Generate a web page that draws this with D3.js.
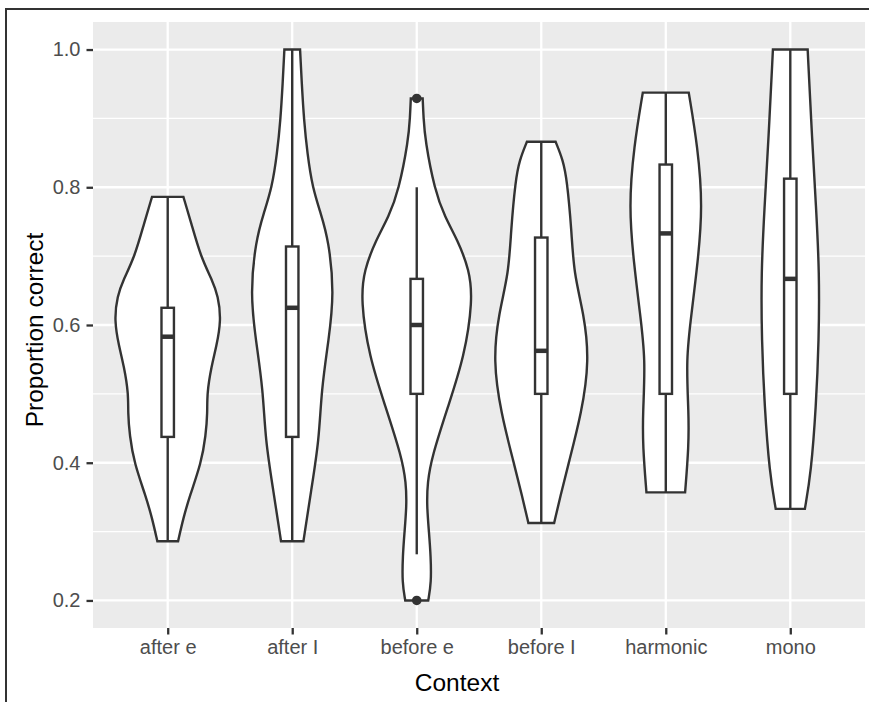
<!DOCTYPE html>
<html>
<head>
<meta charset="utf-8">
<script src="https://cdn.jsdelivr.net/npm/d3@7"></script>
<style>
  html, body { margin: 0; padding: 0; background: #fff; }
  svg { display: block; }
  text { font-family: "Liberation Sans", Arial, sans-serif; }
</style>
</head>
<body>
<svg id="chart" width="869" height="702"></svg>
<script>
// ---------------- DATA ----------------
const categories = ["after e", "after I", "before e", "before I", "harmonic", "mono"];
const yTicks = [0.2, 0.4, 0.6, 0.8, 1.0];
const yTickLabels = ["0.2", "0.4", "0.6", "0.8", "1.0"];
const yMinorTicks = [0.3, 0.5, 0.7, 0.9];

// violin density profiles: [proportion correct, relative density]
const violinAfterE = [[0.786,0.28],[0.786,0.28],[0.748,0.42],[0.699,0.59],[0.666,0.79],[0.642,0.90],[0.607,0.955],[0.569,0.87],[0.54,0.78],[0.50,0.70],[0.473,0.71],[0.44,0.68],[0.40,0.60],[0.351,0.39],[0.32,0.28],[0.286,0.185],[0.286,0.185]];
const violinAfterI = [[1.0,0.14],[1.0,0.14],[0.951,0.17],[0.897,0.21],[0.849,0.27],[0.80,0.36],[0.762,0.51],[0.723,0.65],[0.646,0.75],[0.578,0.65],[0.506,0.52],[0.433,0.48],[0.361,0.34],[0.286,0.20],[0.286,0.20]];
const violinBeforeE = [[0.929,0.106],[0.929,0.106],[0.902,0.12],[0.868,0.15],[0.796,0.32],[0.757,0.50],[0.723,0.73],[0.68,0.94],[0.636,1.0],[0.554,0.85],[0.482,0.56],[0.409,0.27],[0.371,0.19],[0.337,0.18],[0.298,0.22],[0.264,0.25],[0.226,0.26],[0.20,0.205],[0.20,0.205]];
const violinBeforeI = [[0.866,0.256],[0.866,0.256],[0.839,0.39],[0.810,0.46],[0.738,0.54],[0.675,0.58],[0.617,0.76],[0.549,0.86],[0.472,0.72],[0.400,0.49],[0.351,0.34],[0.3125,0.23],[0.3125,0.23]];
const violinHarmonic = [[0.9375,0.41],[0.9375,0.41],[0.859,0.57],[0.772,0.66],[0.690,0.57],[0.617,0.46],[0.55,0.36],[0.472,0.41],[0.424,0.41],[0.357,0.345],[0.357,0.345]];
const violinMono = [[1.0,0.31],[1.0,0.31],[0.868,0.39],[0.772,0.46],[0.675,0.52],[0.578,0.51],[0.482,0.46],[0.385,0.37],[0.333,0.26],[0.333,0.26]];
const violins = [violinAfterE, violinAfterI, violinBeforeE, violinBeforeI, violinHarmonic, violinMono];

// boxplot statistics
const whiskerLow  = [0.286, 0.286, 0.267, 0.3125, 0.357, 0.333];
const q1          = [0.4375, 0.4375, 0.5, 0.5, 0.5, 0.5];
const medians     = [0.583, 0.625, 0.6, 0.5625, 0.733, 0.667];
const q3          = [0.625, 0.714, 0.667, 0.727, 0.833, 0.8125];
const whiskerHigh = [0.786, 1.0, 0.8, 0.867, 0.9375, 1.0];
const outliers    = [[], [], [0.2, 0.929], [], [], []];

const xTitle = "Context";
const yTitle = "Proportion correct";

// ---------------- LAYOUT ----------------
const svg = d3.select("#chart");
const panel = { left: 93, right: 865, top: 22, bottom: 628 };
const ink = "#333333";
const textGrey = "#4D4D4D";
const tickFont = 20;
const titleFont = 24.5;

const x = d3.scalePoint().domain(categories).range([panel.left, panel.right]).padding(0.6);
const y = d3.scaleLinear().domain([0.16, 1.04]).range([panel.bottom, panel.top]);
const step = x.step();
const w = d3.scaleLinear().domain([0, 1]).range([0, 0.45 * step]);

// outer frame
svg.append("rect").attr("x", 6).attr("y", 9).attr("width", 900).attr("height", 760)
  .attr("fill", "none").attr("stroke", ink).attr("stroke-width", 2);

// panel background
svg.append("rect")
  .attr("x", panel.left).attr("y", panel.top)
  .attr("width", panel.right - panel.left).attr("height", panel.bottom - panel.top)
  .attr("fill", "#EBEBEB");

// grid
const grid = svg.append("g");
grid.selectAll("line.minor").data(yMinorTicks).join("line")
  .attr("x1", panel.left).attr("x2", panel.right)
  .attr("y1", d => y(d)).attr("y2", d => y(d))
  .attr("stroke", "#fff").attr("stroke-width", 1.2);
grid.selectAll("line.majory").data(yTicks).join("line")
  .attr("x1", panel.left).attr("x2", panel.right)
  .attr("y1", d => y(d)).attr("y2", d => y(d))
  .attr("stroke", "#fff").attr("stroke-width", 2.3);
grid.selectAll("line.majorx").data(categories).join("line")
  .attr("y1", panel.top).attr("y2", panel.bottom)
  .attr("x1", d => x(d)).attr("x2", d => x(d))
  .attr("stroke", "#fff").attr("stroke-width", 2.3);

// violins
const area = d3.area().curve(d3.curveBasis);

categories.forEach((c, i) => {
  const cx = x(c);
  const prof = violins[i];
  area.y(d => y(d[0])).x0(d => cx - w(d[1])).x1(d => cx + w(d[1]));
  svg.append("path")
    .attr("d", area(prof))
    .attr("fill", "#fff").attr("stroke", ink).attr("stroke-width", 2.4)
    .attr("stroke-linejoin", "miter");
});

// boxplots
const boxHalf = 0.05 * step;
const g = svg.append("g");
categories.forEach((c, i) => {
  const cx = x(c);
  g.append("line").attr("x1", cx).attr("x2", cx)
    .attr("y1", y(q3[i])).attr("y2", y(whiskerHigh[i]))
    .attr("stroke", ink).attr("stroke-width", 2.4);
  g.append("line").attr("x1", cx).attr("x2", cx)
    .attr("y1", y(q1[i])).attr("y2", y(whiskerLow[i]))
    .attr("stroke", ink).attr("stroke-width", 2.4);
  g.append("rect")
    .attr("x", cx - boxHalf).attr("width", 2 * boxHalf)
    .attr("y", y(q3[i])).attr("height", y(q1[i]) - y(q3[i]))
    .attr("fill", "#fff").attr("stroke", ink).attr("stroke-width", 2.4);
  g.append("line")
    .attr("x1", cx - boxHalf).attr("x2", cx + boxHalf)
    .attr("y1", y(medians[i])).attr("y2", y(medians[i]))
    .attr("stroke", ink).attr("stroke-width", 4.5);
  g.selectAll(null).data(outliers[i]).join("circle")
    .attr("cx", cx).attr("cy", d => y(d)).attr("r", 4.8)
    .attr("fill", ink);
});

// axes
const yAxis = svg.append("g").attr("transform", `translate(${panel.left},0)`)
  .call(d3.axisLeft(y).tickValues(yTicks).tickFormat((d, i) => yTickLabels[i]).tickSize(6.5).tickPadding(6));
yAxis.select(".domain").remove();
yAxis.selectAll(".tick line").attr("stroke", ink).attr("stroke-width", 2.3);
yAxis.selectAll(".tick text")
  .attr("fill", textGrey).attr("font-size", tickFont)
  .attr("font-family", "Liberation Sans, Arial, sans-serif");

const xAxis = svg.append("g").attr("transform", `translate(0,${panel.bottom})`)
  .call(d3.axisBottom(x).tickSize(6.5).tickPadding(5));
xAxis.select(".domain").remove();
xAxis.selectAll(".tick line").attr("stroke", ink).attr("stroke-width", 2.3);
xAxis.selectAll(".tick text")
  .attr("fill", textGrey).attr("font-size", tickFont)
  .attr("font-family", "Liberation Sans, Arial, sans-serif");

// titles
svg.append("text")
  .attr("transform", `translate(457,691)`)
  .attr("text-anchor", "middle")
  .attr("font-size", titleFont).attr("fill", "#000")
  .text(xTitle);

svg.append("text")
  .attr("transform", `translate(43,330) rotate(-90)`)
  .attr("text-anchor", "middle")
  .attr("font-size", titleFont).attr("fill", "#000")
  .text(yTitle);
</script>
</body>
</html>
